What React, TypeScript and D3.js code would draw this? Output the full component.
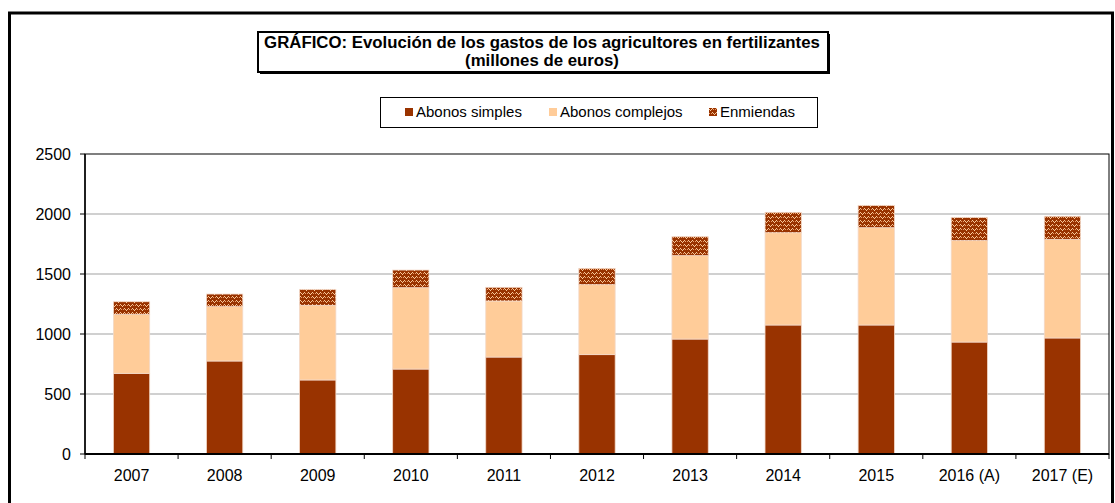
import React from "react";
import * as d3 from "d3";

const categories = ["2007", "2008", "2009", "2010", "2011", "2012", "2013", "2014", "2015", "2016 (A)", "2017 (E)"];
const abonosSimples = [672, 775, 617, 708, 808, 828, 958, 1075, 1075, 933, 967];
const abonosComplejos = [492, 453, 622, 678, 467, 583, 695, 769, 811, 845, 822];
const enmiendas = [105, 105, 133, 147, 114, 136, 158, 170, 186, 194, 192];
const yTicks = [0, 500, 1000, 1500, 2000, 2500];
const seriesNames = ["Abonos simples", "Abonos complejos", "Enmiendas"];
const titleLines = ["GRÁFICO: Evolución de los gastos de los agricultores en fertilizantes", "(millones de euros)"];

const W = 1115;
const H = 503;
const plot = { left: 85, right: 1109, top: 154, bottom: 454 };
const FONT = "'Liberation Sans', Arial, sans-serif";
const DARK = "#993300";
const LIGHT = "#FFCC99";

export default function App() {
  const x = d3.scaleBand<string>().domain(categories).range([plot.left, plot.right]).paddingInner(0).paddingOuter(0);
  const y = d3.scaleLinear().domain([0, 2500]).range([plot.bottom, plot.top]);
  const rows = categories.map((c, i) => ({ cat: c, s: abonosSimples[i], c2: abonosComplejos[i], e: enmiendas[i] }));
  const stack = d3.stack<any>().keys(["s", "c2", "e"]);
  const series = stack(rows);
  const fills = [DARK, LIGHT, "url(#weave)"];
  const bw = x.bandwidth() * 0.39;

  const legendItems = [
    { name: seriesNames[0], fill: DARK, sx: 405, tx: 416 },
    { name: seriesNames[1], fill: LIGHT, sx: 549, tx: 560 },
    { name: seriesNames[2], fill: "url(#weave)", sx: 709, tx: 720 },
  ];

  return (
    <svg width={W} height={H} style={{ position: "absolute", left: 0, top: 0, display: "block" }} fontFamily={FONT}>
      <defs>
        <pattern id="weave" width="8" height="8" patternUnits="userSpaceOnUse">
          <rect width="8" height="8" fill={DARK} />
          <rect x="0" y="0" width="1" height="1" fill="#F8C89A" />
          <rect x="1" y="1" width="1" height="1" fill="#F8C89A" />
          <rect x="2" y="2" width="1" height="1" fill="#F8C89A" />
          <rect x="3" y="1" width="1" height="1" fill="#F8C89A" />
          <rect x="4" y="0" width="1" height="1" fill="#F8C89A" />
          <rect x="4" y="4" width="1" height="1" fill="#F8C89A" />
          <rect x="5" y="5" width="1" height="1" fill="#F8C89A" />
          <rect x="6" y="6" width="1" height="1" fill="#F8C89A" />
          <rect x="7" y="5" width="1" height="1" fill="#F8C89A" />
          <rect x="0" y="4" width="1" height="1" fill="#F8C89A" />
          <rect x="1" y="5" width="1" height="1" fill="#E8A070" />
          <rect x="5" y="1" width="1" height="1" fill="#E8A070" />
          <rect x="3" y="5" width="1" height="1" fill="#E8A070" />
          <rect x="7" y="1" width="1" height="1" fill="#E8A070" />
        </pattern>
      </defs>
      <rect x={0} y={0} width={W} height={H} fill="#fff" />
      {/* outer frame */}
      <rect x={9.5} y={13} width={1103} height={500} fill="none" stroke="#000" strokeWidth={3} />

      {/* title box */}
      <rect x={260} y={34} width={570} height={40} fill="#000" />
      <rect x={258} y={32} width={570} height={40} fill="#fff" stroke="#000" strokeWidth={2} />
      <text x={542} y={48} textAnchor="middle" fontWeight="bold" fontSize={16.8}>{titleLines[0]}</text>
      <text x={542} y={66} textAnchor="middle" fontWeight="bold" fontSize={16.8}>{titleLines[1]}</text>

      {/* legend */}
      <rect x={380.5} y={97.5} width={437} height={30} fill="#fff" stroke="#000" strokeWidth={1} />
      {legendItems.map((l) => (
        <g key={l.name}>
          <rect x={l.sx} y={108} width={8} height={8} fill={l.fill} />
          <text x={l.tx} y={117} fontSize={15}>{l.name}</text>
        </g>
      ))}

      {/* gridlines */}
      {yTicks.filter((t) => t > 0 && t < 2500).map((t) => (
        <line key={t} x1={plot.left} x2={plot.right} y1={y(t)} y2={y(t)} stroke="#c0c0c0" strokeWidth={1.5} />
      ))}

      {/* bars */}
      {series.map((s, si) => (
        <g key={si}>
          {s.map((d, i) => {
            const cx = (x(categories[i]) as number) + x.bandwidth() / 2;
            return (
              <rect
                key={i}
                x={cx - bw / 2}
                y={y(d[1])}
                width={bw}
                height={y(d[0]) - y(d[1])}
                fill={fills[si]}
                stroke="#f3d9c8"
                strokeWidth={0.8}
              />
            );
          })}
        </g>
      ))}

      {/* plot border */}
      <rect x={plot.left} y={plot.top} width={plot.right - plot.left} height={plot.bottom - plot.top} fill="none" stroke="#000" strokeWidth={1} />
      <line x1={plot.left} x2={plot.right} y1={plot.bottom} y2={plot.bottom} stroke="#000" strokeWidth={2} />
      <line x1={plot.left} x2={plot.left} y1={plot.top} y2={plot.bottom} stroke="#000" strokeWidth={1.5} />

      {/* y axis */}
      {yTicks.map((t) => (
        <g key={t}>
          <line x1={plot.left - 5} x2={plot.left} y1={y(t)} y2={y(t)} stroke="#000" />
          <text x={71} y={y(t) + 5.5} textAnchor="end" fontSize={16}>{t}</text>
        </g>
      ))}

      {/* x axis */}
      {[...categories.map((c) => x(c) as number), plot.right].map((px, i) => (
        <line key={i} x1={px} x2={px} y1={plot.bottom} y2={plot.bottom + 5} stroke="#000" />
      ))}
      {categories.map((c) => (
        <text key={c} x={(x(c) as number) + x.bandwidth() / 2} y={481} textAnchor="middle" fontSize={16}>{c}</text>
      ))}
    </svg>
  );
}
